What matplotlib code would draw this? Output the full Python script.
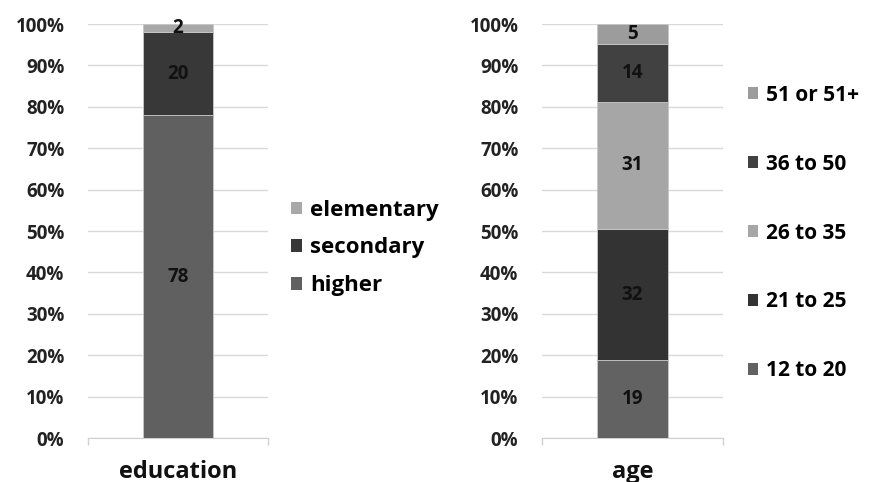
#!/usr/bin/env python3
import matplotlib
matplotlib.use("Agg")
import matplotlib.pyplot as plt
from matplotlib.patches import Patch
from matplotlib.ticker import PercentFormatter

plt.rcParams['font.family'] = ['Open Sans', 'DejaVu Sans']

# --- dados ---
educacao_rotulos = ["higher", "secondary", "elementary"]
educacao_valores = [78, 20, 2]
educacao_cores = ["#606060", "#383838", "#a8a8a8"]

idade_rotulos = ["12 to 20", "21 to 25", "26 to 35", "36 to 50", "51 or 51+"]
idade_valores = [19, 32, 31, 14, 5]
idade_cores = ["#626262", "#333333", "#a6a6a6", "#414141", "#9c9c9c"]

categorias = ["education", "age"]
ticks_y = list(range(0, 101, 10))


def barra_empilhada(ax, valores, cores, categoria):
    total = sum(valores)
    base = 0.0
    for v, c in zip(valores, cores):
        h = v / total * 100
        ax.bar(0.5, h, width=0.39, bottom=base, color=c, edgecolor="#c8c8c8",
               linewidth=0.6, zorder=3)
        ax.text(0.5, base + h / 2, str(v), ha="center", va="center",
                fontsize=13.5, fontweight="bold", color="#111111", zorder=4)
        base += h

    ax.set_xlim(0, 1)
    ax.set_ylim(0, 100)
    ax.set_yticks(ticks_y)
    ax.yaxis.set_major_formatter(PercentFormatter(decimals=0))
    ax.grid(axis="y", color="#d9d9d9", linewidth=1, zorder=0)
    ax.tick_params(axis="y", length=0, labelsize=13.5, labelcolor="#222222", pad=17)
    for rot in ax.get_yticklabels():
        rot.set_fontweight("bold")
    ax.set_xticks([0, 1])
    ax.set_xticklabels(["", ""])
    ax.tick_params(axis="x", length=5, color="#d0d0d0", width=1)
    for lado in ("left", "right", "top"):
        ax.spines[lado].set_visible(False)
    ax.spines["bottom"].set_color("#d0d0d0")
    ax.text(0.5, -0.052, categoria, transform=ax.transAxes, ha="center", va="top",
            fontsize=17, fontweight="bold", color="#111111")


fig = plt.figure(figsize=(8.73, 4.82), dpi=100)
ax1 = fig.add_axes([88 / 873, 1 - 438 / 482, 180 / 873, 414 / 482])
ax2 = fig.add_axes([542 / 873, 1 - 438 / 482, 181 / 873, 414 / 482])

barra_empilhada(ax1, educacao_valores, educacao_cores, categorias[0])
barra_empilhada(ax2, idade_valores, idade_cores, categorias[1])

alcas1 = [Patch(facecolor=c) for c in educacao_cores][::-1]
fig.legend(alcas1, educacao_rotulos[::-1], loc="center left",
           bbox_to_anchor=(291 / 873, 1 - 248 / 482), frameon=False,
           handlelength=0.5, handleheight=0.5, handletextpad=0.35,
           labelspacing=0.75, prop={"size": 16, "weight": "bold"},
           borderaxespad=0, borderpad=0)

alcas2 = [Patch(facecolor=c) for c in idade_cores][::-1]
fig.legend(alcas2, idade_rotulos[::-1], loc="center left",
           bbox_to_anchor=(748 / 873, 1 - 233 / 482), frameon=False,
           handlelength=0.5, handleheight=0.5, handletextpad=0.35,
           labelspacing=2.3, prop={"size": 15, "weight": "bold"},
           borderaxespad=0, borderpad=0)

fig.savefig("out.png", dpi=100, facecolor="white")
